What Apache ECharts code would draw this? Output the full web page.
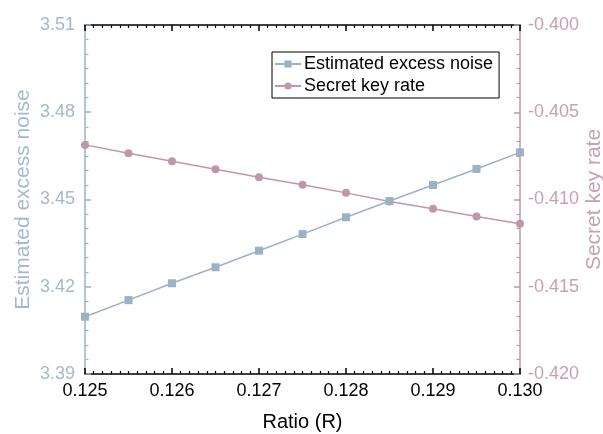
<!DOCTYPE html>
<html>
<head>
<meta charset="utf-8">
<script src="https://cdn.jsdelivr.net/npm/echarts@6/dist/echarts.min.js"></script>
<style>
  html, body { margin: 0; padding: 0; background: #fff; }
  #myChart { width: 603px; height: 434px; }
</style>
</head>
<body>
<div id="myChart"></div>
<script>
// ratio values on x axis
var ratio = [0.125, 0.1255, 0.126, 0.1265, 0.127, 0.1275, 0.128, 0.1285, 0.129, 0.1295, 0.130]
// left axis series
var excessNoise = [3.4097, 3.4154, 3.4212, 3.4267, 3.4324, 3.4381, 3.4439, 3.4495, 3.4550, 3.4605, 3.4662]
// right axis series
var keyRate = [-0.40687, -0.40735, -0.40781, -0.40827, -0.40873, -0.40916, -0.40962, -0.41011, -0.41053, -0.41097, -0.41139]

var blue = '#9cb1c6'
var blueText = '#a6b9cc'
var pink = '#bf97aa'
var pinkText = '#c6a1b3'
var font = 'Liberation Sans, Arial, sans-serif'

function pairs(xs, ys) {
  return xs.map(function (x, i) { return [x, ys[i]] })
}

var chartDom = document.getElementById('myChart')
var myChart = echarts.init(chartDom)
var option = {
  animation: false,
  textStyle: { fontFamily: font },
  grid: { left: 85, right: 83, top: 25, bottom: 60, outerBoundsMode: 'none' },
  legend: {
    orient: 'vertical',
    left: 272,
    top: 52,
    width: 227,
    borderColor: '#000',
    borderWidth: 1,
    padding: [3, 6, 3, 2],
    itemGap: 4,
    itemWidth: 26,
    itemHeight: 9,
    textStyle: { fontSize: 18, color: '#000', fontFamily: font, padding: [0, 0, 0, -2] },
    data: ['Estimated excess noise', 'Secret key rate']
  },
  xAxis: [
    {
      type: 'value',
      position: 'bottom',
      min: 0.125,
      max: 0.130,
      interval: 0.001,
      name: 'Ratio (R)',
      nameLocation: 'middle',
      nameGap: 38,
      nameMoveOverlap: false,
      nameTextStyle: { fontSize: 20, color: '#000', fontFamily: font },
      axisLine: { lineStyle: { color: '#000', width: 1.5 } },
      axisTick: { inside: true, length: 6, lineStyle: { color: '#000', width: 1.5 } },
      minorTick: { show: true, splitNumber: 10, length: 3, lineStyle: { color: '#000', width: 1.2 } },
      splitLine: { show: false },
      axisLabel: {
        fontSize: 18, color: '#000', margin: 8, fontFamily: font,
        showMinLabel: true, showMaxLabel: true,
        formatter: function (v) { return v.toFixed(3) }
      }
    },
    {
      type: 'value',
      position: 'top',
      min: 0.125,
      max: 0.130,
      interval: 0.001,
      axisLine: { lineStyle: { color: '#000', width: 1.5 } },
      axisTick: { inside: true, length: 6, lineStyle: { color: '#000', width: 1.5 } },
      minorTick: { show: true, splitNumber: 10, length: 3, lineStyle: { color: '#000', width: 1.2 } },
      splitLine: { show: false },
      axisLabel: { show: false }
    }
  ],
  yAxis: [
    {
      type: 'value',
      position: 'left',
      min: 3.39,
      max: 3.51,
      interval: 0.03,
      name: 'Estimated excess noise',
      nameLocation: 'middle',
      nameGap: 51,
      nameMoveOverlap: false,
      nameTextStyle: { fontSize: 21, color: blueText, fontFamily: font },
      axisLine: { show: true, lineStyle: { color: blue, width: 1.5 } },
      axisTick: { inside: true, length: 6, lineStyle: { color: blue, width: 1.5 } },
      minorTick: { show: true, splitNumber: 6, length: 3.5, lineStyle: { color: blue, width: 1.2 } },
      splitLine: { show: false },
      axisLabel: {
        fontSize: 18, color: blueText, margin: 10, fontFamily: font,
        showMinLabel: true, showMaxLabel: true,
        formatter: function (v) { return v.toFixed(2) }
      }
    },
    {
      type: 'value',
      position: 'right',
      min: -0.42,
      max: -0.40,
      interval: 0.005,
      name: 'Secret key rate',
      nameLocation: 'middle',
      nameGap: 64,
      nameMoveOverlap: false,
      nameTextStyle: { fontSize: 21, color: pinkText, fontFamily: font },
      axisLine: { show: true, lineStyle: { color: pink, width: 1.5 } },
      axisTick: { inside: true, length: 6, lineStyle: { color: pink, width: 1.5 } },
      minorTick: { show: true, splitNumber: 6, length: 3.5, lineStyle: { color: pink, width: 1.2 } },
      splitLine: { show: false },
      axisLabel: {
        fontSize: 18, color: pinkText, margin: 8, fontFamily: font,
        showMinLabel: true, showMaxLabel: true,
        formatter: function (v) { return v.toFixed(3) }
      }
    }
  ],
  series: [
    {
      name: 'Estimated excess noise',
      type: 'line',
      xAxisIndex: 0,
      yAxisIndex: 0,
      data: pairs(ratio, excessNoise),
      symbol: 'rect',
      symbolSize: 8,
      showAllSymbol: true,
      itemStyle: { color: blue },
      lineStyle: { color: blue, width: 1.5 },
      z: 3
    },
    {
      name: 'Secret key rate',
      type: 'line',
      xAxisIndex: 0,
      yAxisIndex: 1,
      data: pairs(ratio, keyRate),
      symbol: 'circle',
      symbolSize: 8,
      showAllSymbol: true,
      itemStyle: { color: pink },
      lineStyle: { color: pink, width: 1.5 },
      z: 2
    }
  ]
}
myChart.setOption(option)
</script>
</body>
</html>
